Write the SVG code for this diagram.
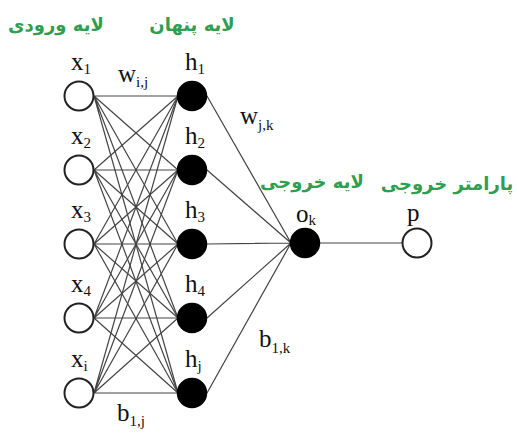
<svg xmlns="http://www.w3.org/2000/svg" width="519" height="434" viewBox="0 0 519 434">
<style>
.lbl{font-family:"Liberation Serif","Times New Roman",serif;font-size:25px;fill:#111}
.sub{font-size:15px}
.fa{font-family:"DejaVu Sans",sans-serif;font-weight:bold;font-size:18px;fill:#2f9e50;text-anchor:middle}
.c{stroke:#444;stroke-width:1.2;fill:none}
.in{fill:#fff;stroke:#222;stroke-width:2}
.hid{fill:#000;stroke:#000;stroke-width:1.5}
</style>
<rect width="519" height="434" fill="#fff"/>
<g id="connectors" class="c">
<path d="M94 96L178 96M94 96L178 170M94 96L178 244M94 96L178 318M94 96L178 393"/>
<path d="M94 170L178 96M94 170L178 170M94 170L178 244M94 170L178 318M94 170L178 393"/>
<path d="M94 244L178 96M94 244L178 170M94 244L178 244M94 244L178 318M94 244L178 393"/>
<path d="M94 318L178 96M94 318L178 170M94 318L178 244M94 318L178 318M94 318L178 393"/>
<path d="M94 393L178 96M94 393L178 170M94 393L178 244M94 393L178 318M94 393L178 393"/>
<path d="M207 96L291 243M207 170L291 243M207 244L291 243M207 318L291 243M207 393L291 243"/>
<path d="M320 243L403 243"/>
</g>
<g id="x1"><circle class="in" cx="79" cy="96" r="14.5"/><text class="lbl" x="71" y="70">x<tspan class="sub" dy="4">1</tspan></text></g>
<g id="x2"><circle class="in" cx="79" cy="170" r="14.5"/><text class="lbl" x="71" y="144">x<tspan class="sub" dy="4">2</tspan></text></g>
<g id="x3"><circle class="in" cx="79" cy="244" r="14.5"/><text class="lbl" x="71" y="218">x<tspan class="sub" dy="4">3</tspan></text></g>
<g id="x4"><circle class="in" cx="79" cy="318" r="14.5"/><text class="lbl" x="71" y="292">x<tspan class="sub" dy="4">4</tspan></text></g>
<g id="xi"><circle class="in" cx="79" cy="393" r="14.5"/><text class="lbl" x="71" y="367">x<tspan class="sub" dy="4">i</tspan></text></g>
<g id="h1"><circle class="hid" cx="192" cy="96" r="14.5"/><text class="lbl" x="185" y="70">h<tspan class="sub" dy="4">1</tspan></text></g>
<g id="h2"><circle class="hid" cx="192" cy="170" r="14.5"/><text class="lbl" x="185" y="144">h<tspan class="sub" dy="4">2</tspan></text></g>
<g id="h3"><circle class="hid" cx="192" cy="244" r="14.5"/><text class="lbl" x="185" y="218">h<tspan class="sub" dy="4">3</tspan></text></g>
<g id="h4"><circle class="hid" cx="192" cy="318" r="14.5"/><text class="lbl" x="185" y="292">h<tspan class="sub" dy="4">4</tspan></text></g>
<g id="hj"><circle class="hid" cx="192" cy="393" r="14.5"/><text class="lbl" x="185" y="367">h<tspan class="sub" dy="4">j</tspan></text></g>
<g id="ok"><circle class="hid" cx="305" cy="243" r="14.5"/><text class="lbl" x="296" y="222">o<tspan class="sub" dy="3">k</tspan></text></g>
<g id="p"><circle class="in" cx="417" cy="243" r="14.5"/><text class="lbl" x="407" y="221">p</text></g>
<g id="labels">
<text class="lbl" x="118" y="82">w<tspan class="sub" dy="5">i,j</tspan></text>
<text class="lbl" x="240" y="124">w<tspan class="sub" dy="6">j,k</tspan></text>
<text class="lbl" x="259" y="347">b<tspan class="sub" dy="6">1,k</tspan></text>
<text class="lbl" x="117" y="421">b<tspan class="sub" dy="5">1,j</tspan></text>
<text class="fa" x="56" y="31">لایه ورودی</text>
<text class="fa" x="192" y="31">لایه پنهان</text>
<text class="fa" x="312" y="188">لایه خروجی</text>
<text class="fa" x="447" y="190">پارامتر خروجی</text>
</g>
</svg>
